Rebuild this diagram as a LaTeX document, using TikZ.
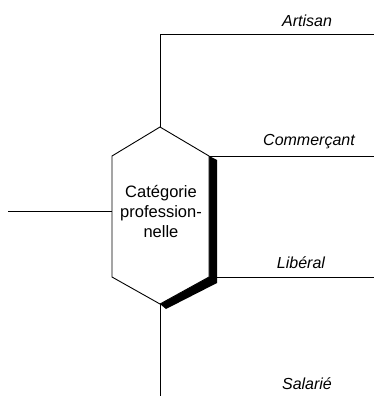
\documentclass[tikz,border=0pt]{standalone}
\usepackage{fontspec}
\setmainfont{Liberation Sans}
\begin{document}
\begin{tikzpicture}[x=1pt,y=-1pt,line width=0.9pt,
  lbl/.style={font=\fontsize{16}{19}\selectfont\itshape,inner sep=0pt},
  conn/.style={draw=black,line width=0.9pt}]
\useasboundingbox (0,0) rectangle (374,396);
% hexagon vertices
\coordinate (T) at (160,127);
\coordinate (UL) at (112,156);
\coordinate (LL) at (112,277);
\coordinate (B) at (160,304);
\coordinate (LR) at (209,277);
\coordinate (UR) at (209,156);
% shadow
\fill[black] (UR) -- (217,160) -- (217,283) -- (166,309) -- (B) -- (LR) -- cycle;
\draw[fill=white] (T) -- (UL) -- (LL) -- (B) -- (LR) -- (UR) -- cycle;
\node[align=center,font=\fontsize{16.5}{20}\selectfont,inner sep=0pt] (cat) at (161,212) {Catégorie\\profession-\\nelle};
% free ends
\coordinate (topc) at (160,34);
\coordinate (topr) at (374,34);
\coordinate (urr) at (374,156);
\coordinate (lrr) at (374,277);
\coordinate (botc) at (160,396);
\coordinate (lft) at (8,211);
\coordinate (lftin) at (112,211);
\draw[conn] (T) -- (topc) -- (topr);
\draw[conn] (UR) -- (urr);
\draw[conn] (LR) -- (lrr);
\draw[conn] (B) -- (botc);
\draw[conn] (lft) -- (lftin);
% labels
\node[lbl] (art) at (307,21) {Artisan};
\node[lbl] (com) at (309,142) {Commerçant};
\node[lbl] (lib) at (301,263) {Libéral};
\node[lbl] (sal) at (307,384) {Salarié};
\end{tikzpicture}
\end{document}
